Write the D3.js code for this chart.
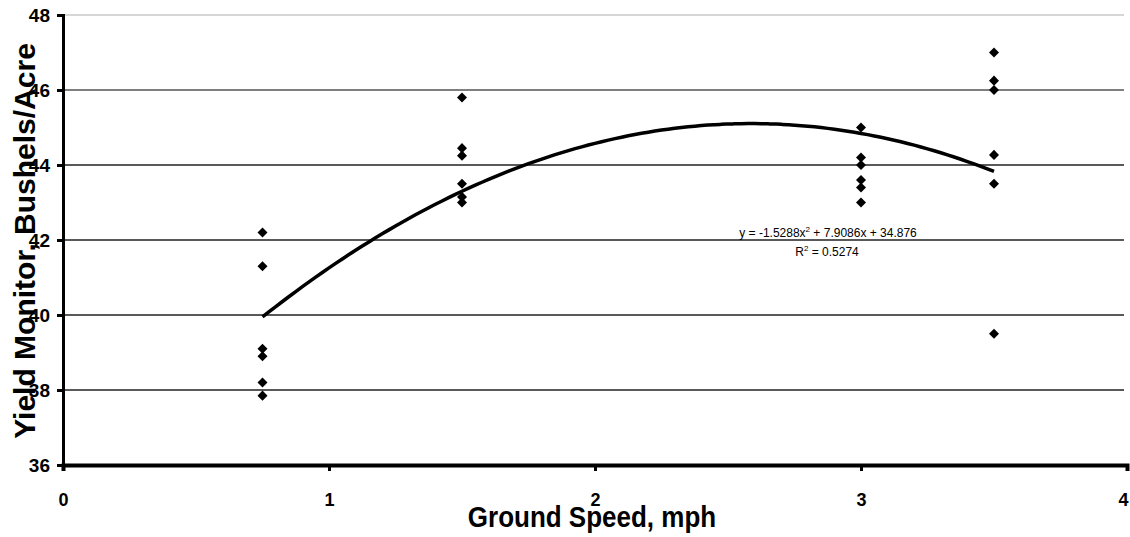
<!DOCTYPE html>
<html>
<head>
<meta charset="utf-8">
<script src="https://cdn.jsdelivr.net/npm/d3@7"></script>
<style>
  html, body { margin: 0; padding: 0; background: #fff; }
  svg { display: block; font-family: "Liberation Sans", Arial, sans-serif; }
</style>
</head>
<body>
<svg id="chart" width="1130" height="537"></svg>
<script>
// ---- data ----
const speeds = [0.75, 1.5, 3, 3.5];
const yieldsAt075 = [42.2, 41.3, 39.1, 38.9, 38.2, 37.85];
const yieldsAt15  = [45.8, 44.45, 44.25, 43.5, 43.15, 43.0];
const yieldsAt3   = [45.0, 44.2, 44.0, 43.6, 43.4, 43.0];
const yieldsAt35  = [47.0, 46.25, 46.0, 44.27, 43.5, 39.5];
const yieldGroups = [yieldsAt075, yieldsAt15, yieldsAt3, yieldsAt35];
const trendCoefs = [-1.5288, 7.9086, 34.876]; // a, b, c of displayed polynomial trendline
const trendRange = [0.75, 3.5];
const xTicks = [0, 1, 2, 3, 4];
const yTicks = [36, 38, 40, 42, 44, 46, 48];
const xTitle = "Ground Speed, mph";
const yTitle = "Yield Monitor, Bushels/Acre";
const eqText = ["y = -1.5288x", "2", " + 7.9086x + 34.876"];
const r2Text = ["R", "2", " = 0.5274"];

// ---- layout ----
const svg = d3.select("#chart");
const x = d3.scaleLinear().domain([0, 4]).range([63, 1127]);
const y = d3.scaleLinear().domain([36, 48]).range([465, 15]);
const tickFont = "'Liberation Sans Narrow', 'Arial Narrow', 'Liberation Sans', Arial, sans-serif";

// gridlines
svg.append("g").selectAll("line")
  .data(yTicks.filter(t => t !== 36))
  .join("line")
  .attr("x1", x(0)).attr("x2", x(4) - 3)
  .attr("y1", d => y(d)).attr("y2", d => y(d))
  .attr("stroke", d => d === 48 ? "#c8c8c8" : (d === 46 ? "#555" : "#222"))
  .attr("stroke-width", 1.4);

// y axis
const yAxis = d3.axisLeft(y).tickValues(yTicks).tickSize(6).tickPadding(7).tickFormat(d3.format("d"));
const gy = svg.append("g").attr("transform", `translate(${x(0)},0)`).call(yAxis);
gy.attr("font-size", null).attr("font-family", null);
gy.select(".domain").attr("stroke", "#000").attr("stroke-width", 3);
gy.selectAll(".tick line").attr("stroke", "#000").attr("stroke-width", 3);
gy.selectAll(".tick text")
  .style("font-size", "19px").style("font-weight", "bold").attr("fill", "#000")
  .attr("dy", "0.34em")
  .style("font-family", tickFont);

// x axis
const xAxis = d3.axisBottom(x).tickValues(xTicks).tickSize(6).tickPadding(0).tickFormat(d3.format("d"));
const gx = svg.append("g").attr("transform", `translate(0,${y(36)})`).call(xAxis);
gx.attr("font-size", null).attr("font-family", null);
gx.select(".domain").attr("stroke", "#000").attr("stroke-width", 4);
gx.selectAll(".tick line").attr("stroke", "#000").attr("stroke-width", 3);
gx.selectAll(".tick text")
  .style("font-size", "18px").style("font-weight", "bold").attr("fill", "#000")
  .attr("dy", null).attr("y", 41)
  .attr("x", d => d === 4 ? -4 : 0)
  .style("font-family", tickFont);

// trendline
const trendX = d3.range(trendRange[0], trendRange[1] + 1e-9, 0.025);
const poly = v => trendCoefs[0] * v * v + trendCoefs[1] * v + trendCoefs[2];
svg.append("path")
  .datum(trendX)
  .attr("d", d3.line().x(d => x(d)).y(d => y(poly(d))).curve(d3.curveMonotoneX))
  .attr("fill", "none").attr("stroke", "#000").attr("stroke-width", 3.5)
  .attr("stroke-linejoin", "round");

// points
const pts = [];
speeds.forEach((s, i) => yieldGroups[i].forEach(v => pts.push({ s, v })));
svg.append("g").selectAll("path")
  .data(pts)
  .join("path")
  .attr("d", d3.symbol().type(d3.symbolDiamond2).size(64))
  .attr("transform", d => `translate(${x(d.s)},${y(d.v)})`)
  .attr("fill", "#000");

// equation labels
function supText(parts, cx, cy) {
  const t = svg.append("text")
    .attr("x", cx).attr("y", cy)
    .attr("text-anchor", "middle")
    .attr("font-size", 12).attr("fill", "#000")
    .attr("font-family", "'Liberation Sans', Arial, sans-serif");
  t.append("tspan").text(parts[0]);
  t.append("tspan").attr("font-size", 8).attr("dy", -5).text(parts[1]);
  t.append("tspan").attr("dy", 5).text(parts[2]);
}
supText(eqText, 828, 237);
supText(r2Text, 827, 256);

// axis titles
svg.append("text")
  .attr("transform", "translate(592,527) scale(1,1.12)")
  .attr("text-anchor", "middle")
  .attr("font-size", 26).attr("font-weight", "bold").attr("fill", "#000")
  .text(xTitle);

svg.append("text")
  .attr("transform", "translate(35,241) rotate(-90)")
  .attr("text-anchor", "middle")
  .attr("font-size", 30).attr("font-weight", "bold").attr("fill", "#000")
  .text(yTitle);
</script>
</body>
</html>
